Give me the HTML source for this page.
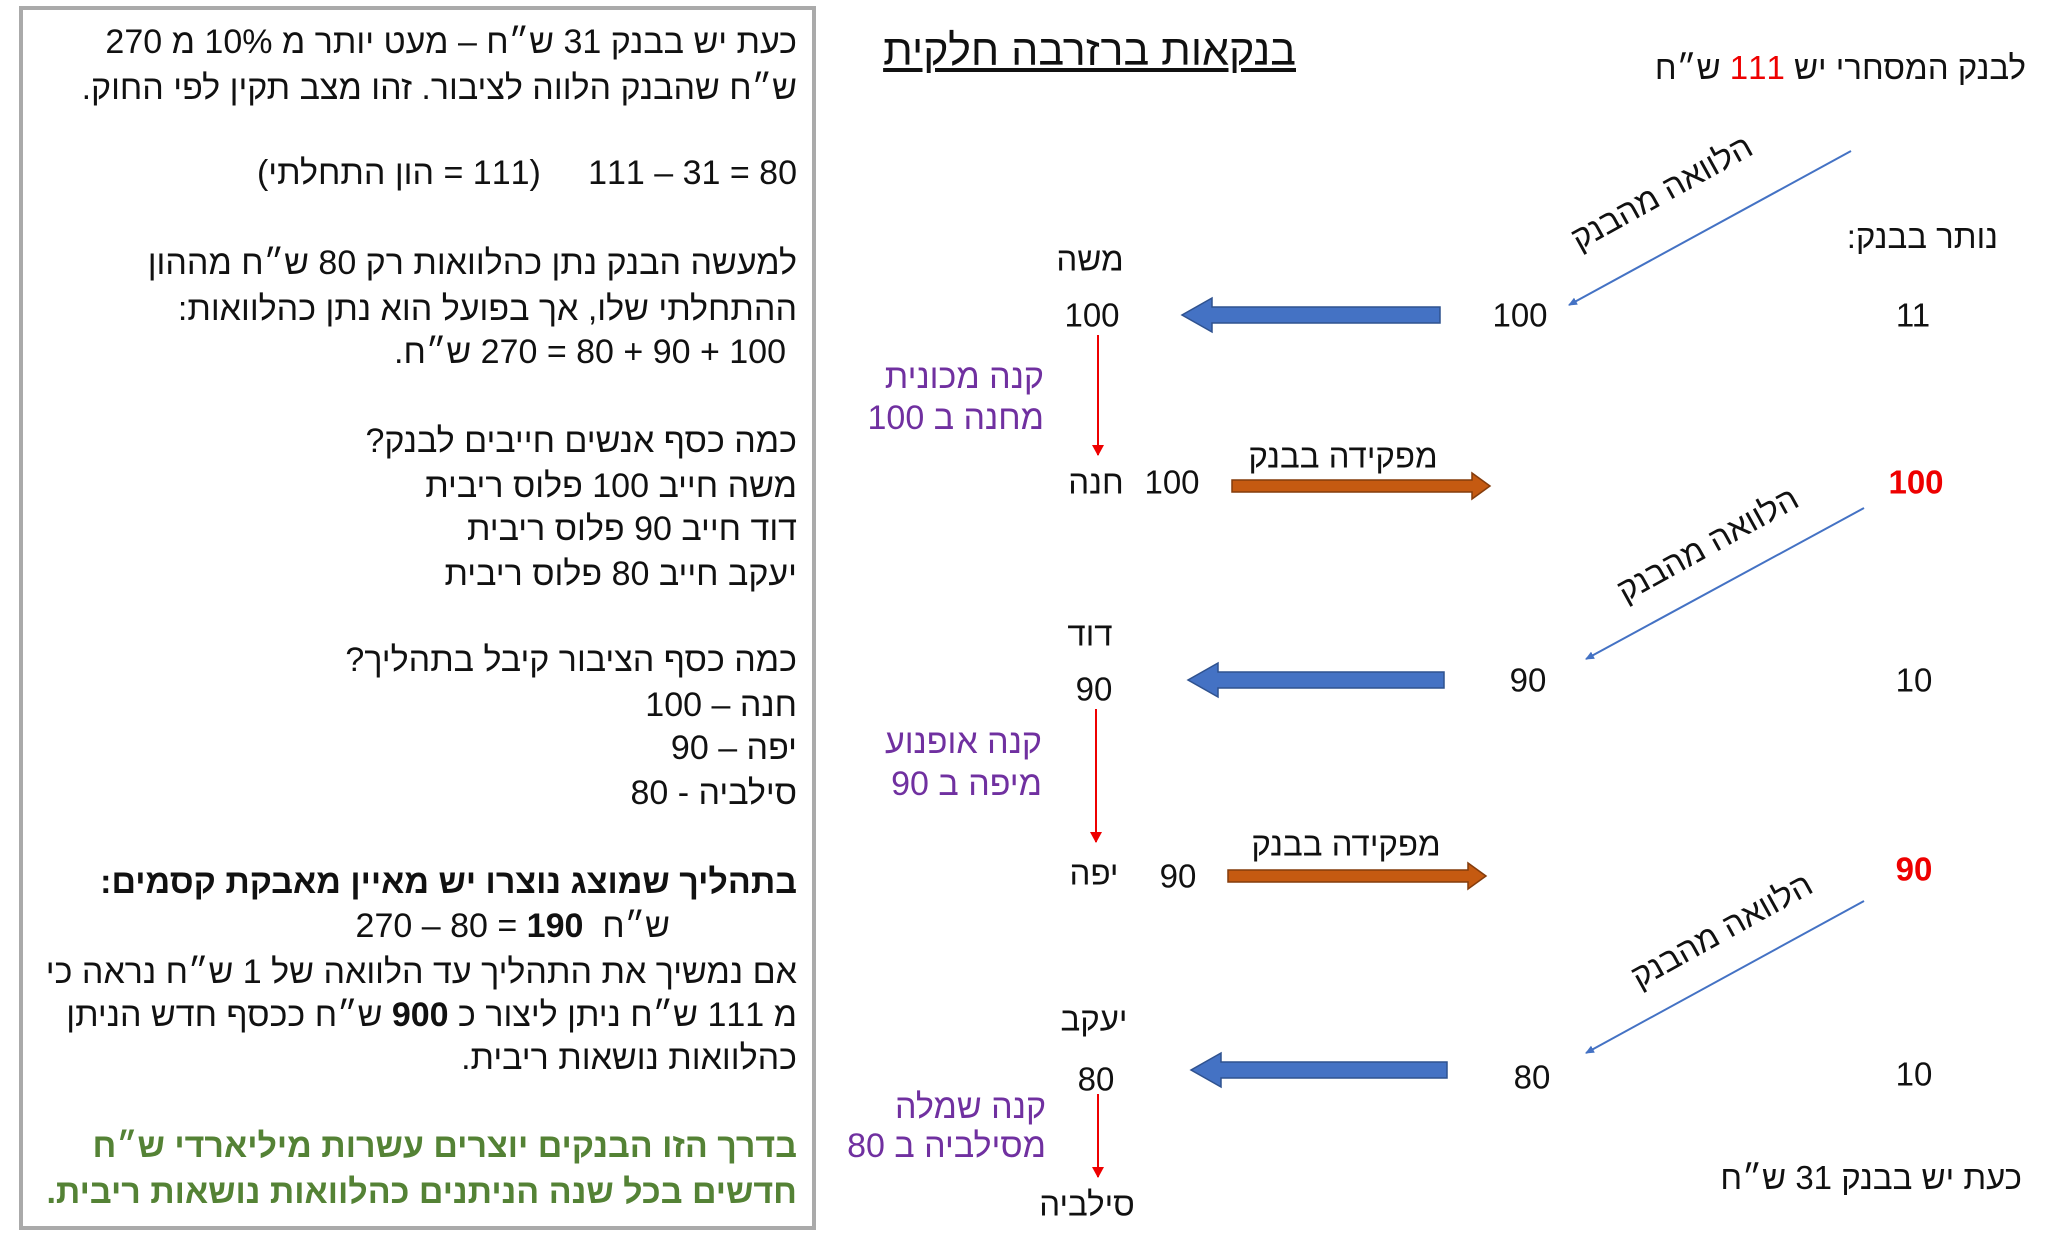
<!DOCTYPE html>
<html><head><meta charset="utf-8"><style>
body{margin:0;width:2048px;height:1236px;background:#fff;position:relative;overflow:hidden;font-family:"Liberation Sans","DejaVu Sans",sans-serif;color:#111}
.t{position:absolute;white-space:nowrap;direction:rtl;line-height:1}
.ltr{position:absolute;white-space:nowrap;direction:ltr;line-height:1;font-size:34px}
.ltr span{unicode-bidi:isolate}
.l{font-size:34px;right:1251px}
.r{font-size:33px}
.c{transform:translate(-50%,-50%)}
.p{color:#7030a0;font-size:34px}
</style></head><body>
<div style="position:absolute;left:19px;top:6px;width:797px;height:1224px;border:4px solid #aaa;box-sizing:border-box"></div>
<div class="t l" style="top:25px">כעת יש בבנק 31 ש״ח – מעט יותר מ 10% מ 270</div>
<div class="t l" style="top:71px">ש״ח שהבנק הלווה לציבור. זהו מצב תקין לפי החוק.</div>
<div class="ltr" style="top:156px;right:1251px"><span>(</span><span dir="rtl">הון התחלתי</span><span> = 111)</span>&nbsp;&nbsp;&nbsp;&nbsp; <span>111 – 31 = 80</span></div>
<div class="t l" style="top:246px">למעשה הבנק נתן כהלוואות רק 80 ש״ח מההון</div>
<div class="t l" style="top:292px">ההתחלתי שלו, אך בפועל הוא נתן כהלוואות:</div>
<div class="ltr" style="top:335px;right:1262px"><span>.</span><span dir="rtl">ש״ח</span><span> 270 = 80 + 90 + 100</span></div>
<div class="t l" style="top:424px">כמה כסף אנשים חייבים לבנק?</div>
<div class="t l" style="top:469px">משה חייב 100 פלוס ריבית</div>
<div class="t l" style="top:512px">דוד חייב 90 פלוס ריבית</div>
<div class="t l" style="top:557px">יעקב חייב 80 פלוס ריבית</div>
<div class="t l" style="top:643px">כמה כסף הציבור קיבל בתהליך?</div>
<div class="t l" style="top:688px">חנה – 100</div>
<div class="t l" style="top:731px">יפה – 90</div>
<div class="t l" style="top:776px">סילביה - 80</div>
<div class="t l" style="top:865px;font-weight:bold">בתהליך שמוצג נוצרו יש מאיין מאבקת קסמים:</div>
<div class="t l" style="top:909px;right:1378px">ש״ח&nbsp; <b>190</b> = 80 – 270</div>
<div class="t l" style="top:955px">אם נמשיך את התהליך עד הלוואה של 1 ש״ח נראה כי</div>
<div class="t l" style="top:998px">מ 111 ש״ח ניתן ליצור כ <b>900</b> ש״ח ככסף חדש הניתן</div>
<div class="t l" style="top:1041px">כהלוואות נושאות ריבית.</div>
<div class="t l" style="top:1129px;color:#548235;font-weight:bold">בדרך הזו הבנקים יוצרים עשרות מיליארדי ש״ח</div>
<div class="t l" style="top:1175px;color:#548235;font-weight:bold">חדשים בכל שנה הניתנים כהלוואות נושאות ריבית.</div>

<div class="t" style="right:752px;top:30px;font-size:43px;text-decoration:underline">בנקאות ברזרבה חלקית</div>
<div class="t r" style="right:22px;top:51px">לבנק המסחרי יש <span style="color:#e00">111</span> ש״ח</div>
<div class="t r" style="right:50px;top:220px">נותר בבנק:</div>

<svg style="position:absolute;left:0;top:0" width="2048" height="1236">
<defs>
<marker id="bh" markerWidth="10" markerHeight="10" refX="8" refY="5" orient="auto" markerUnits="userSpaceOnUse"><path d="M0,1 L9,5 L0,9 Z" fill="#4472c4"/></marker>
<marker id="rh" markerWidth="12" markerHeight="12" refX="10" refY="6" orient="auto" markerUnits="userSpaceOnUse"><path d="M0,0 L11,6 L0,12 Z" fill="#e00"/></marker>
</defs>
<g>
<line x1="1851" y1="151" x2="1569" y2="305" stroke="#4472c4" stroke-width="2" marker-end="url(#bh)"/>
<line x1="1864" y1="508" x2="1586" y2="659" stroke="#4472c4" stroke-width="2" marker-end="url(#bh)"/>
<line x1="1864" y1="901" x2="1586" y2="1053" stroke="#4472c4" stroke-width="2" marker-end="url(#bh)"/>
</g>
<g>
<line x1="1098" y1="335" x2="1098" y2="455" stroke="#e00" stroke-width="2" marker-end="url(#rh)"/>
<line x1="1096" y1="709" x2="1096" y2="842" stroke="#e00" stroke-width="2" marker-end="url(#rh)"/>
<line x1="1098" y1="1094" x2="1098" y2="1177" stroke="#e00" stroke-width="2" marker-end="url(#rh)"/>
</g>
<g fill="#4472c4" stroke="#2f528f" stroke-width="1.5">
<path d="M1440,307 L1212,307 L1212,298 L1182,315 L1212,332 L1212,323 L1440,323 Z"/>
<path d="M1444,672 L1218,672 L1218,663 L1188,680 L1218,697 L1218,688 L1444,688 Z"/>
<path d="M1447,1062 L1221,1062 L1221,1053 L1191,1070 L1221,1087 L1221,1078 L1447,1078 Z"/>
</g>
<g fill="#c55a11" stroke="#843c0c" stroke-width="1.5">
<path d="M1232,480 L1472,480 L1472,473 L1490,486 L1472,499 L1472,492 L1232,492 Z"/>
<path d="M1228,870 L1468,870 L1468,863 L1486,876 L1468,889 L1468,882 L1228,882 Z"/>
</g>
<g font-family="Liberation Sans, DejaVu Sans, sans-serif" font-size="33" text-anchor="middle" fill="#111">
<text transform="translate(1667,202) rotate(-29)">הלוואה מהבנק</text>
<text transform="translate(1713,554) rotate(-29)">הלוואה מהבנק</text>
<text transform="translate(1727,940) rotate(-29)">הלוואה מהבנק</text>
</g>
</svg>

<div class="t r c" style="left:1090px;top:259px">משה</div>
<div class="t r c" style="left:1092px;top:315px">100</div>
<div class="t r c" style="left:1520px;top:315px">100</div>
<div class="t r c" style="left:1913px;top:315px">11</div>
<div class="t p" style="right:1004px;top:360px">קנה מכונית</div>
<div class="t p" style="right:1004px;top:401px">מחנה ב 100</div>

<div class="t r c" style="left:1096px;top:482px">חנה</div>
<div class="t r c" style="left:1172px;top:482px">100</div>
<div class="t r c" style="left:1343px;top:456px">מפקידה בבנק</div>
<div class="t r c" style="left:1916px;top:482px;color:#e00;font-weight:bold">100</div>

<div class="t r c" style="left:1090px;top:634px">דוד</div>
<div class="t r c" style="left:1094px;top:689px">90</div>
<div class="t r c" style="left:1528px;top:680px">90</div>
<div class="t r c" style="left:1914px;top:680px">10</div>
<div class="t p" style="right:1006px;top:725px">קנה אופנוע</div>
<div class="t p" style="right:1006px;top:767px">מיפה ב 90</div>

<div class="t r c" style="left:1094px;top:873px">יפה</div>
<div class="t r c" style="left:1178px;top:876px">90</div>
<div class="t r c" style="left:1346px;top:844px">מפקידה בבנק</div>
<div class="t r c" style="left:1914px;top:869px;color:#e00;font-weight:bold">90</div>

<div class="t r c" style="left:1094px;top:1019px">יעקב</div>
<div class="t r c" style="left:1096px;top:1079px">80</div>
<div class="t r c" style="left:1532px;top:1077px">80</div>
<div class="t r c" style="left:1914px;top:1074px">10</div>
<div class="t p" style="right:1002px;top:1090px">קנה שמלה</div>
<div class="t p" style="right:1002px;top:1129px">מסילביה ב 80</div>
<div class="t r c" style="left:1087px;top:1204px">סילביה</div>
<div class="t r" style="right:26px;top:1161px">כעת יש בבנק 31 ש״ח</div>
</body></html>
